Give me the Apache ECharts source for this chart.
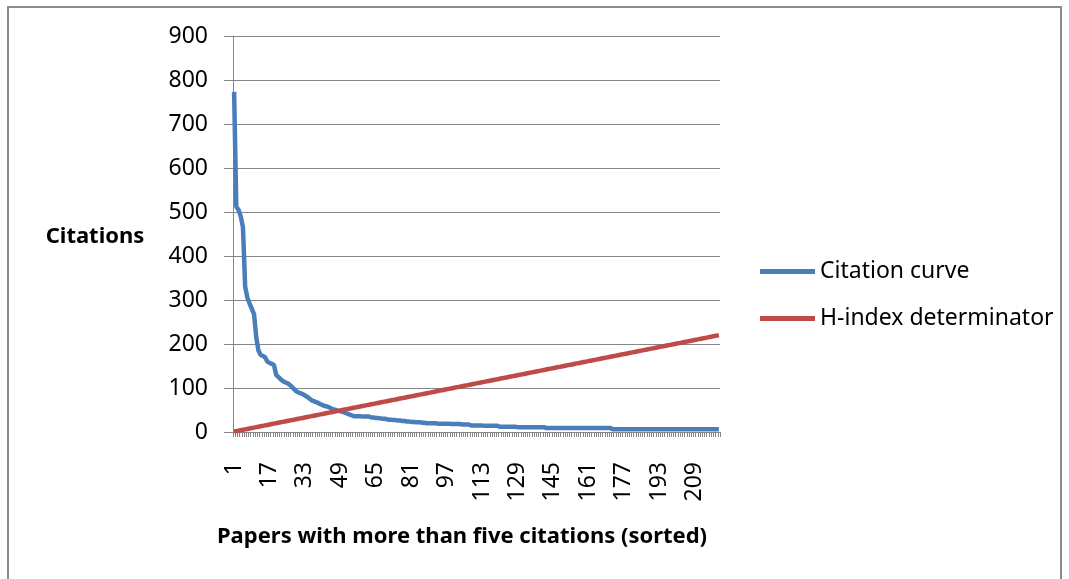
<!DOCTYPE html>
<html>
<head>
<meta charset="utf-8">
<script src="https://cdn.jsdelivr.net/npm/echarts@6/dist/echarts.min.js"></script>
<style>
html,body{margin:0;padding:0;background:#fff;}
#chart{width:1069px;height:579px;}
</style>
</head>
<body>
<div id="chart"></div>
<script>
var categories = [
1,2,3,4,5,6,7,8,9,10,11,12,13,14,15,16,17,18,19,20,
21,22,23,24,25,26,27,28,29,30,31,32,33,34,35,36,37,38,39,40,
41,42,43,44,45,46,47,48,49,50,51,52,53,54,55,56,57,58,59,60,
61,62,63,64,65,66,67,68,69,70,71,72,73,74,75,76,77,78,79,80,
81,82,83,84,85,86,87,88,89,90,91,92,93,94,95,96,97,98,99,100,
101,102,103,104,105,106,107,108,109,110,111,112,113,114,115,116,117,118,119,120,
121,122,123,124,125,126,127,128,129,130,131,132,133,134,135,136,137,138,139,140,
141,142,143,144,145,146,147,148,149,150,151,152,153,154,155,156,157,158,159,160,
161,162,163,164,165,166,167,168,169,170,171,172,173,174,175,176,177,178,179,180,
181,182,183,184,185,186,187,188,189,190,191,192,193,194,195,196,197,198,199,200,
201,202,203,204,205,206,207,208,209,210,211,212,213,214,215,216,217,218,219,220
];
var citationCurve = [
773,512,505,490,465,330,305,292,280,268,
215,185,175,173,170,160,157,155,152,130,
125,120,116,113,111,108,103,98,93,90,
88,86,83,80,76,72,70,68,66,63,
61,59,58,56,53,51,50,48,47,46,
44,42,40,38,36,36,36,36,35,35,
35,35,33,33,32,32,31,30,30,29,
28,28,27,27,26,26,25,25,24,24,
23,23,22,22,22,21,21,20,20,20,
20,20,19,19,19,19,19,19,18,18,
18,18,18,17,17,17,17,15,15,15,
15,15,15,14,14,14,14,14,14,14,
12,12,12,12,12,12,12,12,11,11,
11,11,11,11,11,11,11,11,11,11,
11,9,9,9,9,9,9,9,9,9,
9,9,9,9,9,9,9,9,9,9,
9,9,9,9,9,9,9,9,9,9,
9,6,6,6,6,6,6,6,6,6,
6,6,6,6,6,6,6,6,6,6,
6,6,6,6,6,6,6,6,6,6,
6,6,6,6,6,6,6,6,6,6,
6,6,6,6,6,6,6,6,6,6
];
var hIndexDeterminator = [
1,2,3,4,5,6,7,8,9,10,11,12,13,14,15,16,17,18,19,20,
21,22,23,24,25,26,27,28,29,30,31,32,33,34,35,36,37,38,39,40,
41,42,43,44,45,46,47,48,49,50,51,52,53,54,55,56,57,58,59,60,
61,62,63,64,65,66,67,68,69,70,71,72,73,74,75,76,77,78,79,80,
81,82,83,84,85,86,87,88,89,90,91,92,93,94,95,96,97,98,99,100,
101,102,103,104,105,106,107,108,109,110,111,112,113,114,115,116,117,118,119,120,
121,122,123,124,125,126,127,128,129,130,131,132,133,134,135,136,137,138,139,140,
141,142,143,144,145,146,147,148,149,150,151,152,153,154,155,156,157,158,159,160,
161,162,163,164,165,166,167,168,169,170,171,172,173,174,175,176,177,178,179,180,
181,182,183,184,185,186,187,188,189,190,191,192,193,194,195,196,197,198,199,200,
201,202,203,204,205,206,207,208,209,210,211,212,213,214,215,216,217,218,219,220
];
var yTicks = {min: 0, max: 900, interval: 100};
var seriesNames = ['Citation curve', 'H-index determinator'];
var xTitle = 'Papers with more than five citations (sorted)';
var yTitle = 'Citations';

var FONT = '"Noto Sans", "Open Sans", sans-serif';
var chart = echarts.init(document.getElementById('chart'), null, {renderer: 'canvas'});
chart.setOption({
  animation: false,
  backgroundColor: '#ffffff',
  grid: {left: 233, top: 36, right: 349, bottom: 147, containLabel: false},
  legend: {
    orient: 'vertical',
    left: 760,
    top: 260,
    itemWidth: 55,
    itemHeight: 5,
    itemGap: 24,
    padding: 0,
    icon: 'rect',
    textStyle: {fontFamily: FONT, fontSize: 23, color: '#000'},
    data: seriesNames
  },
  xAxis: {
    type: 'category',
    data: categories,
    boundaryGap: true,
    axisLine: {lineStyle: {color: '#868686', width: 1}},
    axisTick: {show: true, interval: 0, length: 5, lineStyle: {color: '#868686'}},
    axisLabel: {interval: 15, rotate: 90, margin: 30, fontFamily: FONT, fontSize: 23, color: '#000'},
    splitLine: {show: false}
  },
  yAxis: {
    type: 'value',
    min: yTicks.min,
    max: yTicks.max,
    interval: yTicks.interval,
    axisLine: {show: true, lineStyle: {color: '#868686', width: 1}},
    axisTick: {show: true, length: 9, lineStyle: {color: '#868686'}},
    axisLabel: {margin: 25, fontFamily: FONT, fontSize: 23, color: '#000'},
    splitLine: {show: true, lineStyle: {color: '#868686', width: 1}}
  },
  series: [
    {
      name: seriesNames[0], type: 'line', data: citationCurve, symbol: 'none',
      lineStyle: {color: '#4a7ebb', width: 4.5}, itemStyle: {color: '#4a7ebb'}
    },
    {
      name: seriesNames[1], type: 'line', data: hIndexDeterminator, symbol: 'none',
      lineStyle: {color: '#be4b48', width: 4.5}, itemStyle: {color: '#be4b48'}
    }
  ],
  graphic: [
    {type: 'rect', shape: {x: 8, y: 7, width: 1053, height: 600},
     style: {fill: 'none', stroke: '#8c8c8c', lineWidth: 2}, silent: true},
    {type: 'text', x: 95, y: 237,
     style: {text: yTitle, fontFamily: FONT, fontSize: 22, fontWeight: 'bold', fill: '#000',
             textAlign: 'center', textVerticalAlign: 'middle'}},
    {type: 'text', x: 462, y: 537,
     style: {text: xTitle, fontFamily: FONT, fontSize: 22, fontWeight: 'bold', fill: '#000',
             textAlign: 'center', textVerticalAlign: 'middle'}}
  ]
});
</script>
</body>
</html>
